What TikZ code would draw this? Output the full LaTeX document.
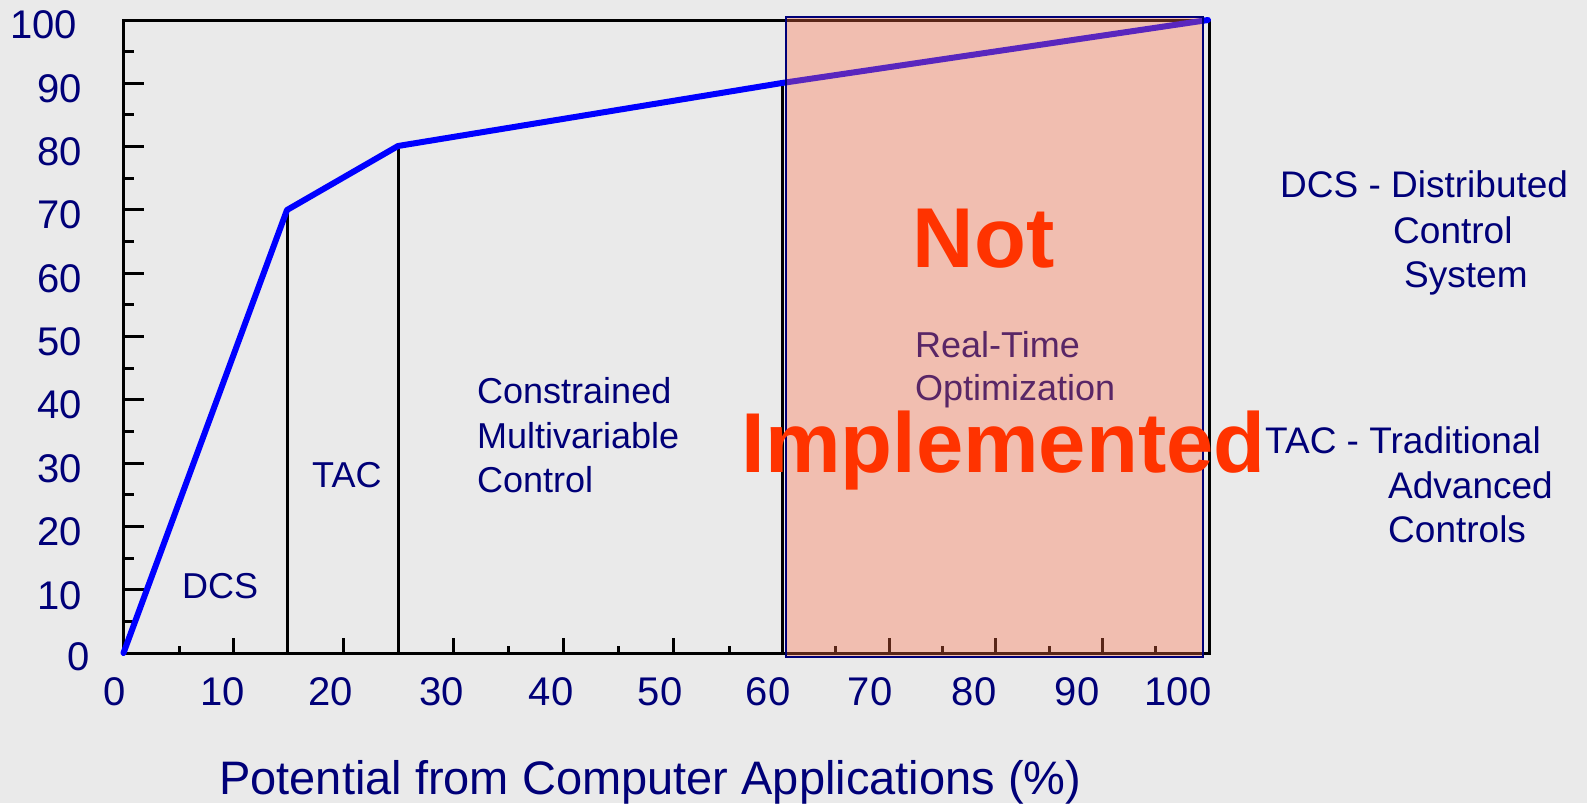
\documentclass[tikz,border=0pt]{standalone}
\usepackage{fontspec}
\setmainfont{Liberation Sans}
\definecolor{bg}{RGB}{234,234,234}
\definecolor{navy}{RGB}{0,0,120}
\definecolor{hot}{RGB}{255,51,0}
\definecolor{salmon}{RGB}{255,110,70}
\tikzset{
  txt/.style={inner sep=0pt, text=navy, anchor=base west, font=\fontsize{36}{36}\selectfont},
  axnum/.style={inner sep=0pt, text=navy, font=\fontsize{40}{40}\selectfont},
  big/.style={inner sep=0pt, text=hot, anchor=base, font=\fontsize{85}{85}\selectfont\bfseries},
  frame/.style={draw=black, line width=3pt},
  tick/.style={draw=black, line width=3pt},
  vline/.style={draw=black, line width=3pt},
  curve/.style={draw={rgb,255:red,0;green,0;blue,255}, line width=6pt, line join=round, line cap=round},
}
\begin{document}
\begin{tikzpicture}[x=1pt,y=-1pt]
\useasboundingbox (0,0) rectangle (1587,803);
\fill[bg] (0,0) rectangle (1587,803);
% frame
\draw[frame] (123.5,20) rectangle (1209,653);
% y ticks
\foreach \v in {10,20,...,90} \draw[tick] (123.5,{653-6.33*\v}) -- ++(20,0);
\foreach \v in {5,15,...,95} \draw[tick] (123.5,{653-6.33*\v}) -- ++(10,0);
% x ticks
\foreach \x in {233,343,453,563,673,782,889,995,1102} \draw[tick] (\x,653) -- ++(0,-15);
\foreach \x in {179,287,398,508,618,729,835,942,1049,1155} \draw[tick] (\x,653) -- ++(0,-7);
% y labels
\foreach \v/\c in {10/596,20/532,30/469,40/405,50/342,60/279,70/215,80/152,90/89}
  \node[axnum, anchor=east] (y\v) at (82,\c) {\v};
\node[axnum, anchor=east] (y100) at (77,25) {100};
\node[axnum, anchor=east] (y0) at (90,657) {0};
% x labels
\foreach \v/\x in {0/115,10/222.5,20/331,30/442,40/551,50/660,60/768,70/870,80/974,90/1077,100/1178}
  \node[axnum] (x\v) at (\x,692) {\v};
% curve points
\coordinate (p0) at (123.5,653);
\coordinate (p1) at (287,210);
\coordinate (p2) at (398,146);
\coordinate (p3) at (782,83);
\coordinate (p4) at (1208,20);
\coordinate (b1) at (287,653);
\coordinate (b2) at (398,653);
\coordinate (b3) at (782,653);
\draw[vline] (b1) -- (p1);
\draw[vline] (b2) -- (p2);
\draw[vline] (b3) -- (p3);
\draw[curve] (p0) -- (p1) -- (p2) -- (p3) -- (p4);
% region labels
\node[txt] (dcs) at (182,598) {DCS};
\node[txt] (tac) at (312,487) {TAC};
\node[txt] (cmc1) at (477,403) {Constrained};
\node[txt] (cmc2) at (477,448) {Multivariable};
\node[txt] (cmc3) at (477,492) {Control};
\node[txt] (rto1) at (915,357) {Real-Time};
\node[txt] (rto2) at (915,400) {Optimization};
% overlay
\fill[salmon, fill opacity=0.35] (786,17) rectangle (1203,657);
\draw[navy, line width=2pt] (786,17) rectangle (1203,657);
\node[big] (not) at (983.5,267) {Not};
\node[big] (impl) at (1003.5,472) {Implemented};
% legend
\node[txt, font=\fontsize{37}{37}\selectfont] (l1) at (1280,197) {DCS - Distributed};
\node[txt, font=\fontsize{37}{37}\selectfont] (l2) at (1393,243) {Control};
\node[txt, font=\fontsize{37}{37}\selectfont] (l3) at (1404,287) {System};
\node[txt, font=\fontsize{37}{37}\selectfont] (l4) at (1265,453) {TAC - Traditional};
\node[txt, font=\fontsize{37}{37}\selectfont] (l5) at (1388,498) {Advanced};
\node[txt, font=\fontsize{37}{37}\selectfont] (l6) at (1388,542) {Controls};
% axis title
\node[txt, font=\fontsize{47}{47}\selectfont] (title) at (219,794) {Potential from Computer Applications (\%)};
\end{tikzpicture}
\end{document}
